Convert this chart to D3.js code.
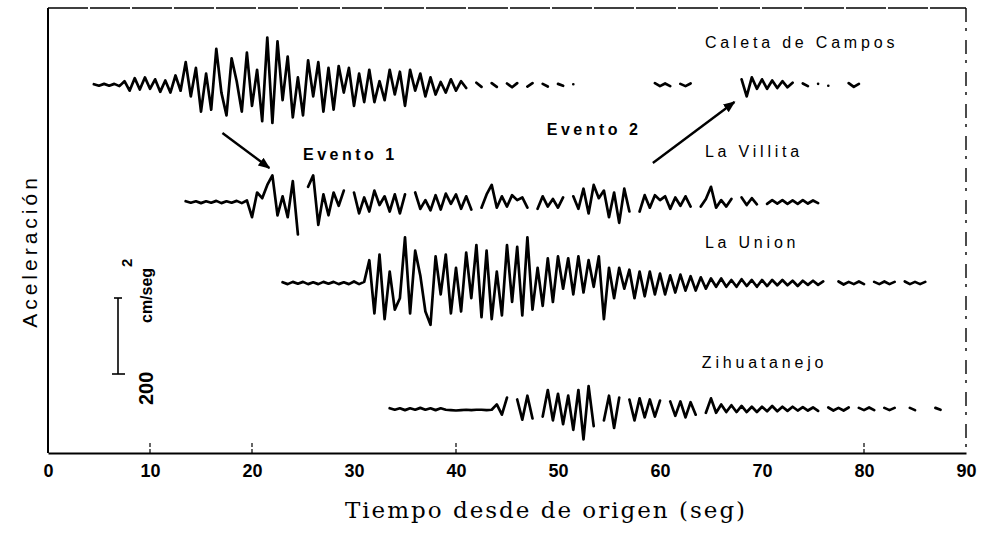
<!DOCTYPE html>
<html>
<head>
<meta charset="utf-8">
<script src="https://cdn.jsdelivr.net/npm/d3@7"></script>
<style>
	body { margin: 0; background: #fff; }
	svg { display: block; }
	.trace { fill: none; stroke: #000; stroke-width: 2.7; stroke-linejoin: round; stroke-linecap: round; }
	.lbl { font-family: "Liberation Sans", Arial, sans-serif; font-weight: bold; fill: #000; }
</style>
</head>
<body>
<div id="graphic"></div>
<script>
// estaciones y trazas (aceleracion en cm/seg2, una muestra cada 0.5 seg)
var STATIONS = ["Caleta de Campos", "La Villita", "La Union", "Zihuatanejo"]
var START_TIMES = [4.5, 13.5, 23, 33.5]
var SAMPLE_STEP = 0.5
var X_TICKS = [0, 10, 20, 30, 40, 50, 60, 70, 80, 90]
var INNER_TICKS = [10, 20, 40, 80]
var SCALE_BAR = 200

var caletaAcc = [
	2, -2, 3, -2, 3, -3,
	10, -15, 18, -12, 20, -10,
	15, -18, 12, -20, 25, -15,
	60, -30, 45, -70, 30, -65,
	95, -20, -80, 70, 10, -70,
	85, -55, 40, -95, 125, -100,
	115, -40, 75, -85, 20, -80,
	65, -30, 60, -70, 45, -65,
	50, -20, 45, -55, 30, -45,
	40, -45, 10, -40, 40, -25,
	35, -55, 40, -15, 30, -30,
	20, -25, 8, -20, 15, -15,
	10, -8, null, 6, -5, null,
	5, -5, null, 4, -6, 5,
	null, -4, 5, null, 3, -4,
	null, 3, -2, null, 2, null,
	null, null, null, null, null, null, null, null, null, null, null, null, null, null,
	5, -3, 4, -3, null, 3,
	-3, 4, null, null, null, null,
	null, null, null, null, null, 15,
	-30, 20, -10, 15, -10, 12,
	-8, 10, -6, 6, null, 4,
	-3, null, 3, null, -2, null,
	null, null, 5, -5, 3, null
]
var villitaAcc = [
	2, -2, 2, -3, 2, -2, 3, -3, 2, -2, 3, -3, 4,
	-40, 25, 10, 45, 70, -35,
	15, -40, 55, -85, null, 40,
	70, -60, 20, -35, 25, -10,
	30, null, 25, -30, 12, -25,
	30, -8, 15, -25, 20, -30,
	20, null, 25, -18, 5, -22,
	18, -20, 22, -5, 20, -18,
	15, -20, null, -15, 20, 45,
	-15, 15, -12, 18, 5, 12,
	-15, null, -18, 15, -12, 8,
	-15, 12, null, 15, -18, 35,
	-30, 45, 10, 30, -40, 25,
	-55, 35, -25, null, -25, 18,
	-15, 18, 5, 15, -18, 12,
	-10, 15, -12, null, -12, 8,
	40, -15, 5, -12, 8, null,
	12, -8, 10, -6, null, -5,
	5, -4, 5, -5, 4, -5,
	5, -4, 4, -3
]
var unionAcc = [
	2, -3, 3, -2, 3, -3, 2, -3, 3, -2, 3, -3, 2, -3, 4, -3, 3,
	60, -80, 75, -95, 30, -70,
	-40, 120, -80, 85, 20, -75,
	-110, 70, -30, 75, -80, 40,
	-75, 80, -40, 100, -90, 85,
	-95, 30, -85, 100, -50, 95,
	-85, 120, -70, 40, -60, 65,
	-50, 70, -15, 65, -30, 70,
	-25, 60, -10, 70, -95, 40,
	-40, 40, -15, 35, -40, 30,
	-35, 30, -30, 25, -30, 20,
	-25, 22, -20, 18, -20, 15,
	-15, 12, -10, 12, -10, 8,
	-10, 10, -8, 8, -10, 8,
	-8, 8, -6, 8, -6, 6,
	-8, 6, -5, 6, -5, 4,
	null, null, 4, -4, 3, -3,
	4, -3, null, 3, -3, 4,
	-3, 3, null, 4, -3, 3, -3, 3
]
var zihuaAcc = [
	2, -2, 2, -3, 2, -2, 3, -2, 2, -3, 2, -2, -3, -4, -3, -2, -3, -2, -2, -3, -2,
	12, -15, 30, null, 25, -28,
	35, -25, null, -20, 50, -30,
	40, -40, 35, -55, 50, -80,
	60, -45, null, -30, 35, -50,
	30, null, 25, -30, 28, -22,
	25, -20, 22, null, 20, -18,
	20, -22, 18, -15, null, -10,
	28, -10, 12, -8, 10, -8,
	8, -8, 6, -8, 6, -6,
	8, -6, 6, -5, 6, -4,
	5, -4, 4, -5, null, 4,
	-4, 3, -4, 4, null, 3,
	-3, 4, -3, null, 3, -3,
	3, null, null, 3, -3, null,
	null, null, 3, -2, null
]

var TRACES = [caletaAcc, villitaAcc, unionAcc, zihuaAcc]

var width = 988, height = 533
var margins = {top: 8, bottom: 80, left: 48, right: 22}
var baselines = [85, 202, 283, 409]
var labelPos = [{t: 64.4, y: 48}, {t: 64.4, y: 157}, {t: 64.4, y: 248}, {t: 64.1, y: 368}]

var x = d3.scaleLinear().domain([0, 90]).range([margins.left, width - margins.right])
// 200 cm/seg2 = 76 px
var yAcc = d3.scaleLinear().domain([0, SCALE_BAR]).range([0, 76])
var bottomY = height - margins.bottom

var svg = d3.select("#graphic")
	.append("svg")
	.attr("width", width)
	.attr("height", height)

// marco
svg.append("line")
	.attr("x1", x(0)).attr("x2", x(0))
	.attr("y1", margins.top).attr("y2", bottomY)
	.attr("stroke", "#000").attr("stroke-width", 2)
svg.append("line")
	.attr("x1", x(0)).attr("x2", x(90))
	.attr("y1", margins.top).attr("y2", margins.top)
	.attr("stroke", "#000").attr("stroke-width", 1.6)
	.attr("stroke-dasharray", "40 2")
svg.append("line")
	.attr("x1", x(90)).attr("x2", x(90))
	.attr("y1", margins.top).attr("y2", bottomY)
	.attr("stroke", "#000").attr("stroke-width", 1.4)
	.attr("stroke-dasharray", "14 6 3 9")

var xAxis = svg.append("g")
	.attr("transform", "translate(0," + bottomY + ")")
	.call(d3.axisBottom(x).tickValues(X_TICKS).tickSize(0).tickPadding(19))
xAxis.select(".domain").attr("stroke-width", 2.2)
xAxis.selectAll("text")
	.attr("class", "lbl")
	.style("font-size", "18px")
	.attr("dy", "0.3em")

svg.selectAll(".innerTick")
	.data(INNER_TICKS)
	.enter()
	.append("line")
	.attr("class", "innerTick")
	.attr("x1", function(d){ return x(d) })
	.attr("x2", function(d){ return x(d) })
	.attr("y1", bottomY)
	.attr("y2", bottomY - 11)
	.attr("stroke", "#000")
	.attr("stroke-width", 1.2)
	.attr("stroke-dasharray", "4 2")

svg.append("text")
	.attr("x", 546)
	.attr("y", 518)
	.attr("text-anchor", "middle")
	.style("font-family", "'DejaVu Serif', serif")
	.style("font-size", "23px")
	.style("letter-spacing", "2px")
	.text("Tiempo desde de origen (seg)")

svg.append("text")
	.attr("transform", "translate(37,251) rotate(-90)")
	.attr("text-anchor", "middle")
	.style("font-family", "'Liberation Sans', Arial, sans-serif")
	.style("font-size", "21px")
	.style("letter-spacing", "4px")
	.text("Aceleración")

// trazas
var line = d3.line()
	.defined(function(d){ return d.a !== null })
	.x(function(d){ return x(d.t) })
	.y(function(d){ return d.base - yAcc(d.a) })

TRACES.forEach(function(values, k){
	var pts = values.map(function(v, i){
		return {t: START_TIMES[k] + i * SAMPLE_STEP, a: v, base: baselines[k]}
	})
	svg.append("path")
		.attr("class", "trace")
		.attr("d", line(pts))
})

svg.selectAll(".station")
	.data(STATIONS)
	.enter()
	.append("text")
	.attr("class", "lbl station")
	.attr("x", function(d, i){ return x(labelPos[i].t) })
	.attr("y", function(d, i){ return labelPos[i].y })
	.style("font-size", "16px")
	.style("font-weight", "normal")
	.style("letter-spacing", "3.8px")
	.text(function(d){ return d })

// escala 200 cm/seg2
var barX = 118, barBottom = 374
svg.append("line")
	.attr("x1", barX).attr("x2", barX)
	.attr("y1", barBottom).attr("y2", barBottom - yAcc(SCALE_BAR))
	.attr("stroke", "#000").attr("stroke-width", 1.6)
svg.append("line")
	.attr("x1", barX - 6).attr("x2", barX + 7)
	.attr("y1", barBottom).attr("y2", barBottom)
	.attr("stroke", "#000").attr("stroke-width", 1.6)
svg.append("line")
	.attr("x1", barX - 4).attr("x2", barX + 4)
	.attr("y1", barBottom - yAcc(SCALE_BAR)).attr("y2", barBottom - yAcc(SCALE_BAR))
	.attr("stroke", "#000").attr("stroke-width", 1.6)
svg.append("text")
	.attr("class", "lbl")
	.attr("transform", "translate(153,405) rotate(-90)")
	.style("font-size", "20px")
	.text(SCALE_BAR)
svg.append("text")
	.attr("class", "lbl")
	.attr("transform", "translate(152,323) rotate(-90)")
	.style("font-size", "16px")
	.text("cm/seg")
svg.append("text")
	.attr("class", "lbl")
	.attr("transform", "translate(132,267) rotate(-90)")
	.style("font-size", "15px")
	.text("2")

// eventos
var events = [
	{text: "Evento 1", tx: 25.0, ty: 160, from: [17.1, 133], to: [21.7, 168]},
	{text: "Evento 2", tx: 48.9, ty: 135, from: [59.3, 163], to: [67.3, 102]}
]
svg.append("defs").append("marker")
	.attr("id", "head")
	.attr("viewBox", "0 0 10 10")
	.attr("refX", 9).attr("refY", 5)
	.attr("markerWidth", 5).attr("markerHeight", 5)
	.attr("orient", "auto")
	.append("path")
	.attr("d", "M0,1 L10,5 L0,9 Z")
	.attr("fill", "#000")
events.forEach(function(e){
	svg.append("line")
		.attr("x1", x(e.from[0])).attr("y1", e.from[1])
		.attr("x2", x(e.to[0])).attr("y2", e.to[1])
		.attr("stroke", "#000").attr("stroke-width", 2.4)
		.attr("marker-end", "url(#head)")
	svg.append("text")
		.attr("class", "lbl")
		.attr("x", x(e.tx))
		.attr("y", e.ty)
		.style("font-size", "16px")
		.style("letter-spacing", "3.5px")
		.text(e.text)
})
</script>
</body>
</html>
